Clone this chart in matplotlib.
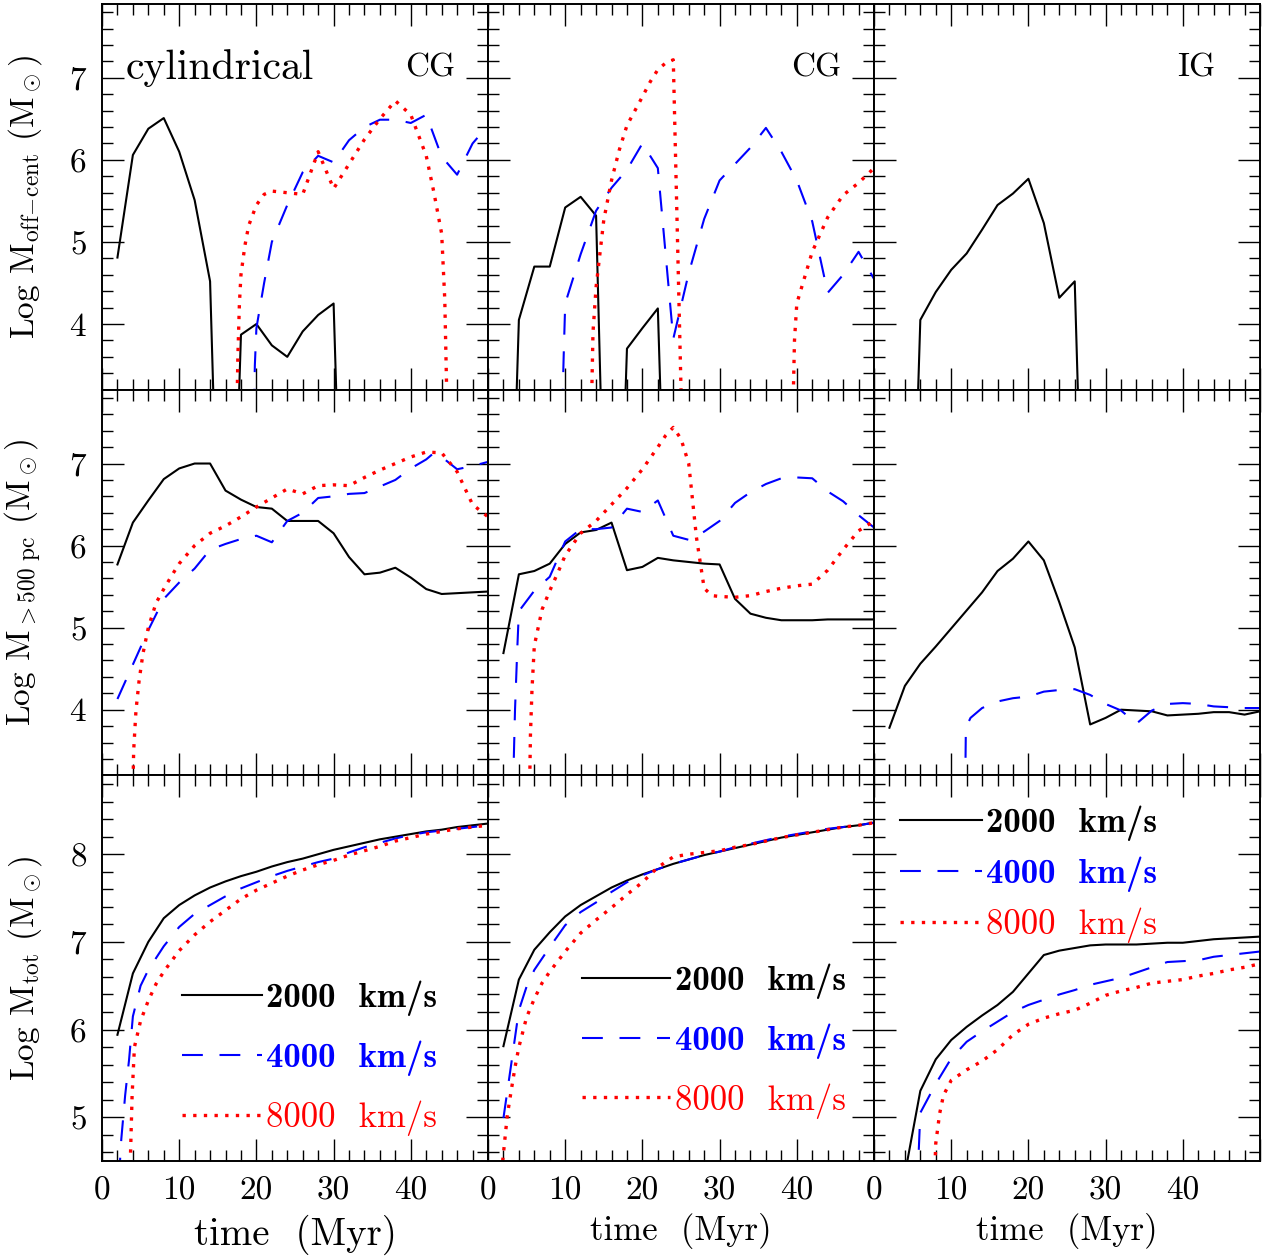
import numpy as np
import matplotlib
matplotlib.use("Agg")
import matplotlib.pyplot as plt
from matplotlib.ticker import MultipleLocator, FuncFormatter

plt.rcParams['font.family'] = ['cmr10', 'DejaVu Serif']
plt.rcParams['mathtext.fontset'] = 'cm'
plt.rcParams['axes.formatter.use_mathtext'] = True
plt.rcParams['axes.unicode_minus'] = False

# ---------------- data (time in Myr, log mass in Msun) ----------------
# -2.0 marks "no mass" (log of zero) -> curve drops out of the panel

# row 1: off-centre mass, cylindrical CG
t_off_cg_2000 = [2, 4, 6, 8, 10, 12, 14, 16, 18, 20, 22, 24, 26, 28, 30, 32]
m_off_cg_2000 = [4.81, 6.06, 6.38, 6.51, 6.10, 5.51, 4.52, -2.0, 3.87, 4.00, 3.74, 3.60, 3.91, 4.11, 4.25, -2.0]
t_off_cg_4000 = [19.6, 19.8, 20, 21, 22, 24, 26, 28, 30, 32, 34, 36, 38, 40, 42, 44, 46, 48, 50]
m_off_cg_4000 = [2.5, 3.5, 3.95, 4.5, 5.0, 5.45, 5.85, 6.05, 5.97, 6.24, 6.40, 6.49, 6.49, 6.45, 6.55, 6.04, 5.82, 6.20, 6.42]
t_off_cg_8000 = [17.4, 17.6, 17.8, 18.0, 18.5, 19, 20, 21, 22, 24, 26, 28, 30, 32, 34, 36, 38, 40, 42, 43, 44, 44.4, 44.8]
m_off_cg_8000 = [2.5, 3.6, 4.25, 4.6, 4.95, 5.2, 5.45, 5.58, 5.62, 5.60, 5.58, 6.10, 5.65, 5.95, 6.25, 6.50, 6.72, 6.55, 6.05, 5.60, 5.10, 4.30, 2.5]

# row 1, middle: CG
t_off_cg2_2000 = [2, 4, 6, 8, 10, 12, 14, 16, 18, 20, 22, 24]
m_off_cg2_2000 = [-2.0, 4.05, 4.70, 4.70, 5.42, 5.55, 5.32, -2.0, 3.70, 3.95, 4.19, -2.0]
t_off_cg2_4000 = [9.5, 9.8, 10, 12, 14, 16, 18, 20, 21, 22, 24, 26, 28, 30, 32, 34, 36, 38, 40, 42, 44, 46, 48, 50]
m_off_cg2_4000 = [2.5, 3.6, 4.25, 4.85, 5.38, 5.66, 5.88, 6.20, 6.05, 5.90, 3.82, 4.62, 5.28, 5.75, 5.95, 6.15, 6.39, 6.10, 5.75, 5.25, 4.38, 4.60, 4.88, 4.55]
t_off_cg2_8000 = [13.3, 13.6, 14, 15, 16, 17, 18, 20, 21, 22, 23, 24, 26, 28, 38, 39.4, 39.7, 40, 42, 44, 46, 48, 50]
m_off_cg2_8000 = [2.5, 3.9, 4.45, 5.27, 5.75, 6.12, 6.42, 6.77, 6.95, 7.10, 7.18, 7.22, -0.8, -2.0, -2.0, 2.5, 3.8, 4.25, 4.88, 5.30, 5.57, 5.72, 5.90]

# row 1, right: IG
t_off_ig_2000 = [4, 6, 8, 10, 12, 14, 16, 18, 20, 22, 24, 26, 28]
m_off_ig_2000 = [-2.0, 4.05, 4.39, 4.66, 4.86, 5.15, 5.45, 5.59, 5.77, 5.23, 4.32, 4.52, -2.0]

# row 2: mass beyond 500 pc
t_500_cyl_2000 = [2, 4, 6, 8, 10, 12, 14, 16, 18, 20, 22, 24, 26, 28, 30, 32, 34, 36, 38, 40, 42, 44, 46, 48, 50]
m_500_cyl_2000 = [5.77, 6.28, 6.55, 6.81, 6.94, 7.00, 7.00, 6.67, 6.56, 6.47, 6.45, 6.30, 6.30, 6.30, 6.15,
                  5.86, 5.65, 5.67, 5.73, 5.61, 5.47, 5.41, 5.42, 5.43, 5.44]
t_500_cyl_4000 = [2, 4, 6, 8, 10, 12, 14, 16, 18, 20, 22, 24, 26, 28, 30, 32, 34, 36, 38, 40, 42, 43, 44, 46, 48, 50]
m_500_cyl_4000 = [4.13, 4.55, 4.97, 5.35, 5.55, 5.72, 5.95, 6.02, 6.08, 6.12, 6.04, 6.30, 6.40, 6.58, 6.60,
                  6.63, 6.64, 6.72, 6.80, 6.94, 7.05, 7.13, 7.08, 6.93, 6.97, 7.02]
t_500_cyl_8000 = [3.9, 4.1, 4.4, 4.8, 5.3, 6, 7, 8, 9, 10, 12, 14, 16, 18, 20, 22, 24, 26, 28, 30, 32, 34,
                  36, 38, 40, 42, 44, 46, 48, 50]
m_500_cyl_8000 = [2.5, 3.5, 3.99, 4.35, 4.68, 5.00, 5.30, 5.47, 5.63, 5.78, 6.00, 6.15, 6.24, 6.35, 6.47, 6.58,
                  6.69, 6.63, 6.73, 6.74, 6.73, 6.83, 6.92, 7.00, 7.08, 7.14, 7.13, 6.90, 6.50, 6.35]

t_500_cg_2000 = [2, 4, 6, 8, 10, 12, 14, 16, 18, 20, 22, 24, 26, 28, 30, 32, 34, 36, 38, 40, 42, 44, 46, 48, 50]
m_500_cg_2000 = [4.69, 5.65, 5.69, 5.78, 6.02, 6.16, 6.19, 6.28, 5.70, 5.74, 5.85, 5.82, 5.80, 5.78, 5.77,
                 5.35, 5.17, 5.12, 5.09, 5.09, 5.09, 5.10, 5.10, 5.10, 5.10]
t_500_cg_4000 = [3.1, 3.5, 3.8, 4, 6, 8, 10, 12, 14, 16, 18, 20, 22, 24, 26, 28, 30, 32, 34, 36, 38, 40,
                 42, 44, 46, 48, 50]
m_500_cg_4000 = [2.5, 4.0, 4.76, 5.20, 5.45, 5.62, 6.05, 6.20, 6.20, 6.22, 6.45, 6.41, 6.55, 6.12, 6.07,
                 6.17, 6.30, 6.52, 6.65, 6.75, 6.82, 6.83, 6.82, 6.66, 6.54, 6.37, 6.22]
t_500_cg_8000 = [5.3, 5.5, 5.7, 6, 7, 8, 9, 10, 12, 14, 16, 18, 20, 22, 23, 24, 25, 26, 27, 28, 29, 30, 32,
                 34, 36, 38, 40, 42, 44, 46, 48, 50]
m_500_cg_8000 = [2.5, 3.7, 4.25, 4.78, 5.22, 5.45, 5.66, 5.88, 6.15, 6.30, 6.50, 6.70, 6.93, 7.20, 7.34,
                 7.44, 7.30, 7.00, 6.10, 5.48, 5.39, 5.38, 5.37, 5.39, 5.44, 5.48, 5.51, 5.53, 5.70, 5.95,
                 6.18, 6.30]

t_500_ig_2000 = [2, 4, 6, 8, 10, 12, 14, 16, 18, 20, 22, 24, 26, 28, 30, 32, 34, 36, 38, 40, 42, 44, 46, 48, 50]
m_500_ig_2000 = [3.78, 4.29, 4.56, 4.77, 4.99, 5.21, 5.43, 5.69, 5.84, 6.05, 5.82, 5.31, 4.76, 3.82, 3.90,
                 4.00, 3.99, 3.98, 3.93, 3.94, 3.95, 3.97, 3.97, 3.94, 3.98]
t_500_ig_4000 = [11.75, 11.9, 12.5, 14, 16, 18, 20, 22, 24, 26, 28, 30, 32, 34, 36, 38, 40, 42, 44, 46, 48, 50]
m_500_ig_4000 = [2.5, 3.78, 3.90, 4.02, 4.10, 4.14, 4.16, 4.22, 4.24, 4.25, 4.18, 4.07, 3.99, 3.83, 3.99,
                 4.07, 4.08, 4.07, 4.04, 4.03, 4.02, 4.02]

# row 3: total mass
t_tot_cyl_2000 = [2, 4, 6, 8, 10, 12, 14, 16, 18, 20, 22, 24, 26, 28, 30, 32, 34, 36, 38, 40, 42, 44, 46, 48, 50]
m_tot_cyl_2000 = [5.94, 6.64, 7.00, 7.27, 7.42, 7.53, 7.62, 7.69, 7.75, 7.80, 7.86, 7.91, 7.95, 8.00, 8.05,
                  8.09, 8.13, 8.17, 8.20, 8.23, 8.26, 8.28, 8.31, 8.33, 8.35]
t_tot_cyl_4000 = [2.2, 2.5, 3, 3.5, 4, 5, 6, 8, 10, 12, 14, 16, 18, 20, 22, 24, 26, 28, 30, 32, 34, 36, 38,
                  40, 42, 44, 46, 48, 50]
m_tot_cyl_4000 = [4.30, 4.75, 5.25, 5.65, 6.15, 6.50, 6.68, 6.95, 7.17, 7.32, 7.42, 7.52, 7.61, 7.68, 7.75,
                  7.81, 7.86, 7.91, 7.95, 8.02, 8.08, 8.13, 8.18, 8.22, 8.25, 8.27, 8.29, 8.31, 8.33]
t_tot_cyl_8000 = [3.5, 3.7, 3.9, 4.2, 5, 6, 7, 8, 10, 12, 14, 16, 18, 20, 22, 24, 26, 28, 30, 32, 34, 36,
                  38, 40, 42, 44, 46, 48, 50]
m_tot_cyl_8000 = [3.50, 4.60, 5.25, 5.80, 6.10, 6.33, 6.52, 6.66, 6.90, 7.08, 7.23, 7.36, 7.49, 7.59, 7.67,
                  7.75, 7.82, 7.88, 7.93, 7.99, 8.04, 8.09, 8.15, 8.19, 8.23, 8.26, 8.29, 8.31, 8.33]

t_tot_cg_2000 = [2, 4, 6, 8, 10, 12, 14, 16, 18, 20, 22, 24, 26, 28, 30, 32, 34, 36, 38, 40, 42, 44, 46, 48, 50]
m_tot_cg_2000 = [5.81, 6.57, 6.91, 7.11, 7.29, 7.42, 7.52, 7.62, 7.70, 7.77, 7.83, 7.89, 7.94, 7.99, 8.03,
                 8.07, 8.11, 8.15, 8.19, 8.22, 8.25, 8.28, 8.31, 8.33, 8.36]
t_tot_cg_4000 = [2, 3, 4, 5, 6, 8, 10, 12, 14, 16, 18, 20, 22, 24, 26, 28, 30, 32, 34, 36, 38, 40, 42, 44,
                 46, 48, 50]
m_tot_cg_4000 = [4.99, 5.60, 6.22, 6.49, 6.68, 6.94, 7.19, 7.34, 7.45, 7.57, 7.68, 7.76, 7.83, 7.89, 7.94,
                 7.99, 8.03, 8.08, 8.12, 8.16, 8.20, 8.23, 8.26, 8.29, 8.31, 8.33, 8.36]
t_tot_cg_8000 = [1.9, 2.5, 3, 3.5, 4, 5, 6, 7, 8, 10, 12, 14, 16, 18, 20, 22, 24, 26, 28, 30, 32, 34, 36,
                 38, 40, 42, 44, 46, 48, 50]
m_tot_cg_8000 = [4.50, 5.02, 5.30, 5.57, 5.80, 6.14, 6.35, 6.53, 6.66, 6.89, 7.10, 7.25, 7.39, 7.54, 7.68,
                 7.85, 7.97, 8.00, 8.02, 8.04, 8.08, 8.11, 8.15, 8.19, 8.22, 8.25, 8.28, 8.31, 8.33, 8.36]

t_tot_ig_2000 = [4, 6, 8, 10, 12, 14, 16, 18, 20, 22, 24, 26, 28, 30, 32, 34, 36, 38, 40, 42, 44, 46, 48, 50]
m_tot_ig_2000 = [4.35, 5.30, 5.66, 5.88, 6.03, 6.16, 6.28, 6.43, 6.64, 6.85, 6.90, 6.93, 6.96, 6.97, 6.97,
                 6.97, 6.98, 6.99, 6.99, 7.01, 7.03, 7.04, 7.05, 7.06]
t_tot_ig_4000 = [5.6, 6, 8, 10, 12, 14, 16, 18, 20, 22, 24, 26, 28, 30, 32, 34, 36, 38, 40, 42, 44, 46, 48, 50]
m_tot_ig_4000 = [4.20, 5.05, 5.38, 5.67, 5.86, 5.98, 6.09, 6.20, 6.28, 6.34, 6.40, 6.45, 6.51, 6.55, 6.59,
                 6.65, 6.71, 6.77, 6.78, 6.79, 6.83, 6.85, 6.87, 6.89]
t_tot_ig_8000 = [7.8, 8.0, 8.5, 9, 10, 12, 14, 16, 18, 20, 22, 24, 26, 28, 30, 32, 34, 36, 38, 40, 42, 44,
                 46, 48, 50]
m_tot_ig_8000 = [4.20, 4.70, 5.04, 5.25, 5.42, 5.54, 5.64, 5.77, 5.94, 6.06, 6.13, 6.18, 6.22, 6.30, 6.39,
                 6.44, 6.48, 6.53, 6.55, 6.57, 6.61, 6.64, 6.68, 6.71, 6.75]

speeds = ['2000  km/s', '4000  km/s', '8000  km/s']
speed_fonts = ['cmb10', 'cmb10', 'cmr10']
panel_tags = ['CG', 'CG', 'IG']
row_ylabels = [r'Log $\mathrm{M_{off\!-\!cent}}$ $(\mathrm{M_\odot})$',
               r'Log $\mathrm{M_{>500\ pc}}$ $(\mathrm{M_\odot})$',
               r'Log $\mathrm{M_{tot}}$ $(\mathrm{M_\odot})$']
row_ylims = [(3.2, 7.9), (3.2, 7.9), (4.5, 8.9)]

panels = [
    [[(t_off_cg_2000, m_off_cg_2000), (t_off_cg_4000, m_off_cg_4000), (t_off_cg_8000, m_off_cg_8000)],
     [(t_off_cg2_2000, m_off_cg2_2000), (t_off_cg2_4000, m_off_cg2_4000), (t_off_cg2_8000, m_off_cg2_8000)],
     [(t_off_ig_2000, m_off_ig_2000), None, None]],
    [[(t_500_cyl_2000, m_500_cyl_2000), (t_500_cyl_4000, m_500_cyl_4000), (t_500_cyl_8000, m_500_cyl_8000)],
     [(t_500_cg_2000, m_500_cg_2000), (t_500_cg_4000, m_500_cg_4000), (t_500_cg_8000, m_500_cg_8000)],
     [(t_500_ig_2000, m_500_ig_2000), (t_500_ig_4000, m_500_ig_4000), None]],
    [[(t_tot_cyl_2000, m_tot_cyl_2000), (t_tot_cyl_4000, m_tot_cyl_4000), (t_tot_cyl_8000, m_tot_cyl_8000)],
     [(t_tot_cg_2000, m_tot_cg_2000), (t_tot_cg_4000, m_tot_cg_4000), (t_tot_cg_8000, m_tot_cg_8000)],
     [(t_tot_ig_2000, m_tot_ig_2000), (t_tot_ig_4000, m_tot_ig_4000), (t_tot_ig_8000, m_tot_ig_8000)]],
]

styles = [dict(color='black', lw=1.5, ls='-'),
          dict(color='#0000ff', lw=1.5, ls=(0, (10, 8))),
          dict(color='#ff0000', lw=2.4, ls=(0, (1, 2.2)))]

# legend placement per bottom panel: anchor (axes coords), handle length, row spacing
legend_layout = [((0.19, 0.485), 2.3, 0.7),
                 ((0.225, 0.53), 2.55, 0.7),
                 ((0.05, 0.94), 2.36, 0.45)]

fig = plt.figure(figsize=(12.68, 12.57), dpi=100)
gs = fig.add_gridspec(3, 3, left=102 / 1268, right=1260 / 1268, bottom=96 / 1257, top=1253 / 1257,
                      wspace=0, hspace=0)

for r in range(3):
    for c in range(3):
        ax = fig.add_subplot(gs[r, c])
        handles = []
        for k, series in enumerate(panels[r][c]):
            if series is None:
                continue
            ln, = ax.plot(series[0], series[1], dash_capstyle='butt', **styles[k])
            handles.append(ln)
        ax.set_xlim(0, 50)
        ax.set_ylim(*row_ylims[r])
        ax.xaxis.set_major_locator(MultipleLocator(10))
        ax.xaxis.set_minor_locator(MultipleLocator(2))
        ax.yaxis.set_major_locator(MultipleLocator(1))
        ax.yaxis.set_minor_locator(MultipleLocator(0.2))
        ax.tick_params(which='both', direction='in', top=True, right=True, width=1.0, labelsize=24)
        ax.tick_params(which='major', length=16, pad=11)
        ax.tick_params(which='minor', length=8)
        for sp in ax.spines.values():
            sp.set_linewidth(1.4)
        ax.xaxis.set_major_formatter(FuncFormatter(lambda v, p: '' if v > 45 else '%d' % v))
        if r < 2:
            ax.tick_params(labelbottom=False)
        else:
            ax.set_xlabel('time  (Myr)', fontsize=28 if c == 0 else 25)
            ax.xaxis.set_label_coords(0.5, -0.14 if c == 0 else -0.135)
        if c > 0:
            ax.tick_params(labelleft=False)
        else:
            ax.set_ylabel(row_ylabels[r], fontsize=24)
            ax.yaxis.set_label_coords(-0.15, 0.5)
        if r == 0:
            ax.text(0.785, 0.834, panel_tags[c], transform=ax.transAxes, fontsize=24, va='center', ha='left')
            if c == 0:
                ax.text(0.062, 0.834, 'cylindrical', transform=ax.transAxes, fontsize=30,
                        va='center', ha='left')
        if r == 2:
            anchor, hl, sp = legend_layout[c]
            leg = ax.legend(handles, speeds[:len(handles)], loc='upper left', bbox_to_anchor=anchor,
                            frameon=False, fontsize=25, handlelength=hl, handletextpad=0.12,
                            labelspacing=sp, borderpad=0.2, borderaxespad=0, labelcolor='linecolor')
            for txt, fam in zip(leg.get_texts(), speed_fonts):
                txt.set_fontfamily(fam)

fig.savefig('out.png', dpi=100)
